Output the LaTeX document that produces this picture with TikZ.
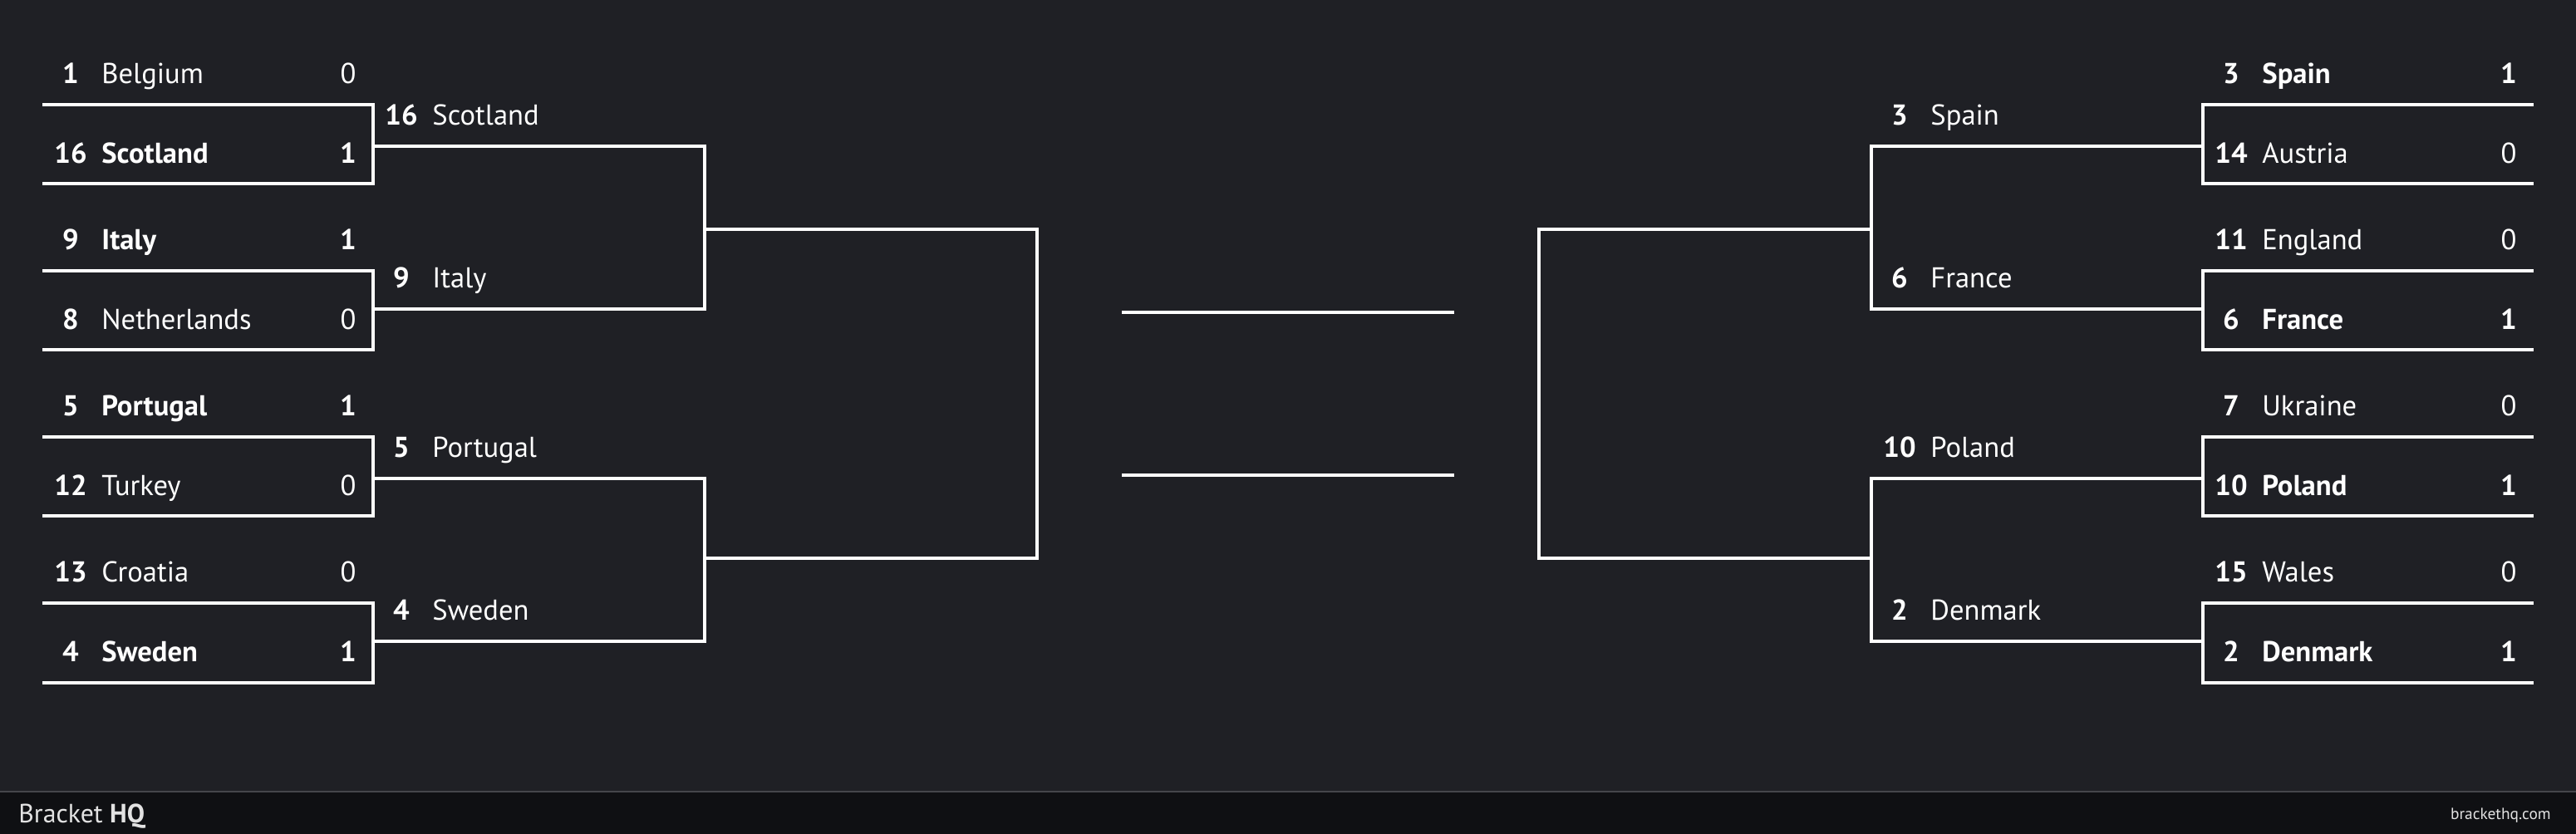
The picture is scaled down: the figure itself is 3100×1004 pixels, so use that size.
\documentclass[tikz,border=0pt]{standalone}
\usepackage{fontspec}
\setmainfont{PT Sans}
\definecolor{bg}{HTML}{1F2025}
\definecolor{footbg}{HTML}{0F1013}
\definecolor{footline}{HTML}{45464B}
\definecolor{foottext}{HTML}{E2E2E2}
\newcommand\tfont{\fontsize{17.3}{20}\selectfont}
% team row with score: id, x0, x1, yline, seed, name, score, style
\newcommand\tmrow[8]{%
  \node[seedtxt] (#1s) at (#2+34,#4-25) {#5};
  \node[#8] (#1n) at (#2+71,#4-25) {#6};
  \node[#8,anchor=base] (#1c) at (#3-30,#4-25) {#7};
}
% round-two label: id, x0, yline, seed, name
\newcommand\rtrow[5]{%
  \node[seedtxt] (#1s) at (#2+34,#3-25) {#4};
  \node[nametxt] (#1n) at (#2+71,#3-25) {#5};
}
\begin{document}
\begin{tikzpicture}[x=0.5pt,y=-0.5pt,
  line/.style={white,line width=2pt,line join=miter},
  seedtxt/.style={text=white,font=\tfont\bfseries,anchor=base,inner sep=0pt},
  nametxt/.style={text=white,font=\tfont,anchor=base west,inner sep=0pt},
  wintxt/.style={text=white,font=\tfont\bfseries,anchor=base west,inner sep=0pt}]
\useasboundingbox (0,0) rectangle (3100,1004);
\fill[bg] (0,0) rectangle (3100,1004);
\fill[footbg] (0,953) rectangle (3100,1004);
\coordinate (fl) at (0,953);
\coordinate (fr) at (3100,953);
\draw[footline,line width=0.6pt] (fl) -- (fr);

% ---------- first round connectors ----------
\foreach \k in {0,1,2,3}{
  \coordinate (lt\k) at (51,126+200*\k);
  \coordinate (ltc\k) at (449,126+200*\k);
  \coordinate (lbc\k) at (449,221.5+200*\k);
  \coordinate (lb\k) at (51,221.5+200*\k);
  \draw[line] (lt\k) -- (ltc\k) -- (lbc\k) -- (lb\k);
  \coordinate (rt\k) at (3049,126+200*\k);
  \coordinate (rtc\k) at (2651,126+200*\k);
  \coordinate (rbc\k) at (2651,221.5+200*\k);
  \coordinate (rb\k) at (3049,221.5+200*\k);
  \draw[line] (rt\k) -- (rtc\k) -- (rbc\k) -- (rb\k);
}
% ---------- second round ----------
\foreach \j in {0,1}{
  \coordinate (mt\j) at (449,176+400*\j);
  \coordinate (mtc\j) at (848,176+400*\j);
  \coordinate (mbc\j) at (848,372+400*\j);
  \coordinate (mb\j) at (449,372+400*\j);
  \draw[line] (mt\j) -- (mtc\j) -- (mbc\j) -- (mb\j);
  \coordinate (nt\j) at (2651,176+400*\j);
  \coordinate (ntc\j) at (2252,176+400*\j);
  \coordinate (nbc\j) at (2252,372+400*\j);
  \coordinate (nb\j) at (2651,372+400*\j);
  \draw[line] (nt\j) -- (ntc\j) -- (nbc\j) -- (nb\j);
}
% ---------- third round ----------
\coordinate (st) at (848,276);
\coordinate (stc) at (1248,276);
\coordinate (sbc) at (1248,672);
\coordinate (sb) at (848,672);
\draw[line] (st) -- (stc) -- (sbc) -- (sb);
\coordinate (ut) at (2252,276);
\coordinate (utc) at (1852,276);
\coordinate (ubc) at (1852,672);
\coordinate (ub) at (2252,672);
\draw[line] (ut) -- (utc) -- (ubc) -- (ub);
% ---------- centre ----------
\coordinate (c1a) at (1350,376);
\coordinate (c1b) at (1750,376);
\coordinate (c2a) at (1350,572);
\coordinate (c2b) at (1750,572);
\draw[line] (c1a) -- (c1b);
\draw[line] (c2a) -- (c2b);

% ---------- left first round texts ----------
\tmrow{bel}{51}{449}{126}{1}{Belgium}{0}{nametxt}
\tmrow{sco}{51}{449}{221.5}{16}{Scotland}{1}{wintxt}
\tmrow{ita}{51}{449}{326}{9}{Italy}{1}{wintxt}
\tmrow{ned}{51}{449}{421.5}{8}{Netherlands}{0}{nametxt}
\tmrow{por}{51}{449}{526}{5}{Portugal}{1}{wintxt}
\tmrow{tur}{51}{449}{621.5}{12}{Turkey}{0}{nametxt}
\tmrow{cro}{51}{449}{726}{13}{Croatia}{0}{nametxt}
\tmrow{swe}{51}{449}{821.5}{4}{Sweden}{1}{wintxt}
% ---------- right first round texts ----------
\tmrow{esp}{2651}{3049}{126}{3}{Spain}{1}{wintxt}
\tmrow{aut}{2651}{3049}{221.5}{14}{Austria}{0}{nametxt}
\tmrow{eng}{2651}{3049}{326}{11}{England}{0}{nametxt}
\tmrow{fra}{2651}{3049}{421.5}{6}{France}{1}{wintxt}
\tmrow{ukr}{2651}{3049}{526}{7}{Ukraine}{0}{nametxt}
\tmrow{pol}{2651}{3049}{621.5}{10}{Poland}{1}{wintxt}
\tmrow{wal}{2651}{3049}{726}{15}{Wales}{0}{nametxt}
\tmrow{den}{2651}{3049}{821.5}{2}{Denmark}{1}{wintxt}
% ---------- second round texts ----------
\rtrow{sco2}{449}{176}{16}{Scotland}
\rtrow{ita2}{449}{372}{9}{Italy}
\rtrow{por2}{449}{576}{5}{Portugal}
\rtrow{swe2}{449}{772}{4}{Sweden}
\rtrow{esp2}{2252}{176}{3}{Spain}
\rtrow{fra2}{2252}{372}{6}{France}
\rtrow{pol2}{2252}{576}{10}{Poland}
\rtrow{den2}{2252}{772}{2}{Denmark}

% ---------- footer ----------
\node[text=foottext,font=\fontsize{15.9}{19}\selectfont,anchor=base west,inner sep=0pt] (brand) at (22,990.5) {Bracket \textbf{HQ}};
\node[text=foottext,font=\fontsize{9.7}{12}\selectfont,anchor=base east,inner sep=0pt] (url) at (3070,986) {brackethq.com};
\end{tikzpicture}
\end{document}
